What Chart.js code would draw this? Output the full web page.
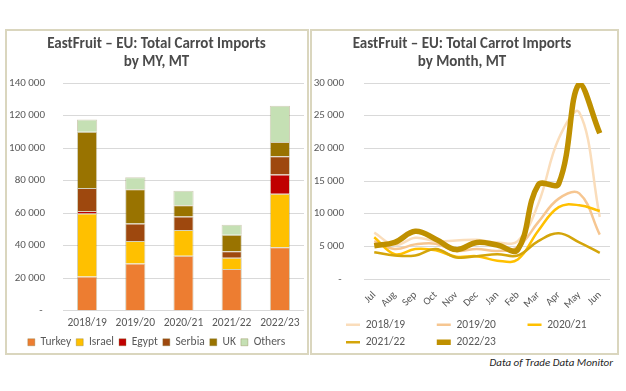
<!DOCTYPE html>
<html>
<head>
<meta charset="utf-8">
<script src="https://cdn.jsdelivr.net/npm/chart.js@4.4.1/dist/chart.umd.min.js"></script>
<style>
  html, body { margin: 0; padding: 0; background: #fff; }
  body { width: 626px; height: 391px; position: relative; overflow: hidden; }
  .panel { position: absolute; top: 29px; height: 326px; box-sizing: border-box; border: 2px solid #DAD6BE; }
  #panel-my { left: 5px; width: 304px; }
  #panel-month { left: 310px; width: 309px; }
  canvas { display: block; }
  .source { position: absolute; right: 13px; top: 356px; font: italic 11px Carlito, Lato, sans-serif; color: #262626; }
</style>
</head>
<body>
<div class="panel" id="panel-my"><canvas id="chart-my" width="300" height="322"></canvas></div>
<div class="panel" id="panel-month"><canvas id="chart-month" width="305" height="322"></canvas></div>
<div class="source">Data of Trade Data Monitor</div>
<script>
  // ── Data: imports by marketing year, MT ─────────
  var years = ["2018/19", "2019/20", "2020/21", "2021/22", "2022/23"];
  var turkey = [21000, 29000, 33800, 25600, 39000];
  var israel = [38800, 13800, 15800, 6900, 32900];
  var egypt = [1500, 0, 0, 0, 11800];
  var serbia = [14200, 10800, 8300, 4000, 11200];
  var uk = [34500, 21000, 6900, 10200, 8800];
  var others = [7500, 7500, 9000, 6200, 22300];

  // ── Data: imports by month, MT ──────────────────
  var months = ["Jul", "Aug", "Sep", "Oct", "Nov", "Dec", "Jan", "Feb", "Mar", "Apr", "May", "Jun"];
  var my1819 = [7100, 5200, 6300, 5800, 5900, 6000, 5600, 5800, 11500, 21500, 25500, 9500];
  var my1920 = [5800, 4600, 5300, 5400, 4300, 4600, 4300, 4900, 8700, 12300, 13100, 6800];
  var my2021 = [6400, 3800, 4600, 4400, 3400, 3500, 2800, 3000, 7400, 11000, 11300, 10400];
  var my2122 = [4100, 3600, 3600, 4600, 3300, 3500, 3800, 3600, 5800, 7000, 5600, 4000];
  var my2223 = [5100, 5600, 7300, 6100, 4500, 5600, 5200, 4500, 14400, 14600, 29900, 22300];

  var FONT = "Carlito, Lato, sans-serif";
  var GREY = "#595959";
  Chart.defaults.font.family = FONT;
  Chart.defaults.color = GREY;
  Chart.defaults.animation = false;

  function fmt(v) {
    if (v === 0) return "- ";
    return String(v).replace(/\B(?=(\d{3})+(?!\d))/g, " ");
  }

  function titleOpts(lines) {
    return { display: true, text: lines, color: "#4a4a4a", font: { size: 15, weight: "bold", lineHeight: 1.2 }, padding: { top: 4, bottom: 12 } };
  }

  function fixW(w) { return function (s) { s.width = w; }; }
  function fixH(h) { return function (s) { s.height = h; }; }

  // nudge the legend after layout
  function legendShift(dx, dy) {
    return {
      id: "legendShift",
      afterLayout: function (chart) {
        chart.legend.left += dx;
        chart.legend.right += dx;
        chart.legend.top += dy;
        chart.legend.bottom += dy;
      }
    };
  }

  // ── Stacked bars ────────────────────────────────

  function bar(label, data, color) {
    return { label: label, data: data, backgroundColor: color, borderColor: "rgba(130,120,60,0.35)", borderWidth: 1, barPercentage: 1, categoryPercentage: 0.42 };
  }

  new Chart(document.getElementById("chart-my"), {
    type: "bar",
    data: {
      labels: years,
      datasets: [
        bar("Turkey", turkey, "#ED7D31"),
        bar("Israel", israel, "#FFC000"),
        bar("Egypt", egypt, "#C00000"),
        bar("Serbia", serbia, "#9E480E"),
        bar("UK", uk, "#997300"),
        bar("Others", others, "#C5E0B4")
      ]
    },
    plugins: [legendShift(0, -5)],
    options: {
      responsive: false,
      layout: { padding: { left: 2, right: 3, bottom: -10 } },
      plugins: {
        title: titleOpts(["EastFruit \u2013 EU: Total Carrot Imports", "by MY, MT"]),
        legend: { position: "bottom", labels: { boxWidth: 7, boxHeight: 7, padding: 5, color: GREY, font: { size: 11.5 } } },
        tooltip: { enabled: false }
      },
      scales: {
        x: {
          stacked: true, grid: { display: false, drawTicks: false, tickLength: 0 }, border: { display: false },
          ticks: { maxRotation: 0, autoSkip: false, color: GREY, font: { size: 11.5 }, padding: 6 }
        },
        y: {
          stacked: true, min: 0, max: 140000, afterFit: fixW(54),
          grid: { color: "#D9D9D9", drawTicks: false }, border: { display: false },
          ticks: { stepSize: 20000, padding: 18, color: GREY, font: { size: 11 }, callback: fmt }
        }
      }
    }
  });

  // ── Monthly lines ───────────────────────────────

  function line(label, data, color, width, order) {
    return { label: label, data: data, borderColor: color, backgroundColor: color, borderWidth: width, pointRadius: 0, tension: 0.4, fill: false, order: order };
  }

  var baseLabels = Chart.defaults.plugins.legend.labels.generateLabels;

  new Chart(document.getElementById("chart-month"), {
    type: "line",
    data: {
      labels: months,
      datasets: [
        line("2018/19", my1819, "#FADDBB", 2.5, 4),
        line("2019/20", my1920, "#F6C691", 2.5, 3),
        line("2020/21", my2021, "#FFC000", 2.5, 2),
        line("2021/22", my2122, "#D4A50A", 2.5, 1),
        line("2022/23", my2223, "#BF9000", 5.5, 0)
      ]
    },
    plugins: [legendShift(26, 0)],
    options: {
      responsive: false,
      layout: { padding: { left: 2, right: 7, bottom: -5 } },
      plugins: {
        title: titleOpts(["EastFruit \u2013 EU: Total Carrot Imports", "by Month, MT"]),
        legend: {
          position: "bottom", align: "start",
          labels: {
            usePointStyle: true, pointStyle: "line", pointStyleWidth: 14, boxWidth: 14, padding: 6, color: GREY, font: { size: 11.5 },
            // pad names so the entries sit in even columns
            generateLabels: function (chart) {
              return baseLabels(chart).map(function (l) { l.text = l.text + "\u2003\u2003 "; return l; });
            },
            sort: function (a, b) { return a.datasetIndex - b.datasetIndex; }
          }
        },
        tooltip: { enabled: false }
      },
      scales: {
        x: {
          offset: true, grid: { display: false }, border: { display: false }, afterFit: fixH(34),
          ticks: { minRotation: 45, maxRotation: 45, autoSkip: false, color: GREY, font: { size: 10.5 }, padding: 2 }
        },
        y: {
          min: 0, max: 30000, afterFit: fixW(50),
          grid: { color: "#D9D9D9", drawTicks: false }, border: { display: false },
          ticks: { stepSize: 5000, padding: 20, color: GREY, font: { size: 11 }, callback: fmt }
        }
      }
    }
  });
</script>
</body>
</html>
